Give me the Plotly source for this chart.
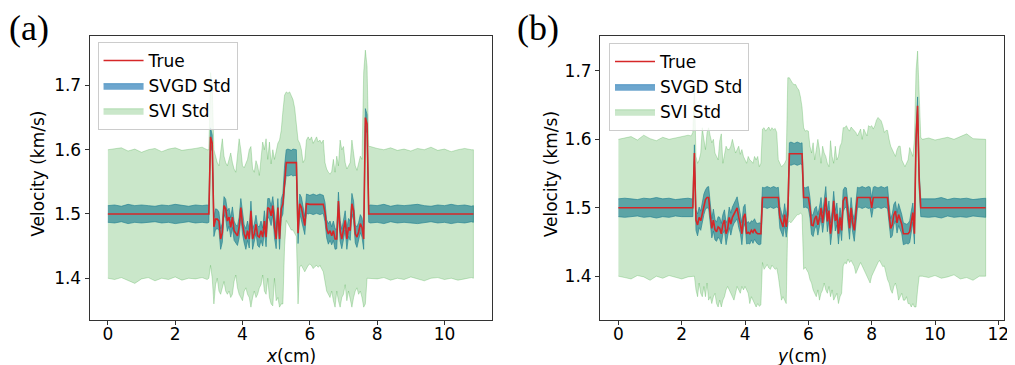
import plotly.graph_objects as go

# ---------------- Panel (a): velocity along x ----------------
a_x_flat1 = [0.0, 0.2, 0.4, 0.6, 0.8, 1.0, 1.2, 1.4, 1.6, 1.8, 2.0, 2.2, 2.4, 2.6, 2.8, 2.95]
a_x_het = [3.00, 3.05, 3.10, 3.15, 3.20, 3.25, 3.30, 3.35, 3.40, 3.45, 3.50, 3.55, 3.60, 3.65, 3.70, 3.75,
           3.80, 3.85, 3.90, 3.95, 4.00, 4.05, 4.10, 4.15, 4.20, 4.25, 4.30, 4.35, 4.40, 4.45, 4.50, 4.55,
           4.60, 4.65, 4.70, 4.75, 4.80, 4.85, 4.90, 4.95, 5.00, 5.05, 5.10, 5.15, 5.20, 5.25, 5.30, 5.35,
           5.40, 5.45, 5.50, 5.55, 5.60, 5.65, 5.70, 5.75, 5.80, 5.85, 5.90, 5.95, 6.00, 6.05, 6.10, 6.15,
           6.20, 6.25, 6.30, 6.35, 6.40, 6.45, 6.50, 6.55, 6.60, 6.65, 6.70, 6.75, 6.80, 6.85, 6.90, 6.95,
           7.00, 7.05, 7.10, 7.15, 7.20, 7.25, 7.30, 7.35, 7.40, 7.45, 7.50, 7.55, 7.60, 7.65, 7.70, 7.75]
a_x_flat2 = [7.8, 8.0, 8.2, 8.4, 8.6, 8.8, 9.0, 9.2, 9.4, 9.6, 9.8, 10.0, 10.2, 10.4, 10.6, 10.8, 10.86]

a_true_flat1 = [1.5] * 16
a_true_het = [1.500, 1.620, 1.610, 1.480, 1.492, 1.492, 1.489, 1.461, 1.471, 1.513, 1.508, 1.489, 1.495, 1.479,
              1.495, 1.474, 1.469, 1.466, 1.479, 1.510, 1.484, 1.469, 1.461, 1.474, 1.461, 1.505, 1.461, 1.469,
              1.484, 1.466, 1.464, 1.474, 1.464, 1.489, 1.464, 1.510, 1.508, 1.497, 1.513, 1.479, 1.461, 1.510,
              1.461, 1.508, 1.516, 1.557, 1.580, 1.580, 1.580, 1.580, 1.580, 1.580, 1.580, 1.470, 1.516, 1.510,
              1.495, 1.482, 1.516, 1.515, 1.515, 1.515, 1.515, 1.515, 1.515, 1.515, 1.515, 1.515, 1.515, 1.503,
              1.477, 1.469, 1.474, 1.466, 1.474, 1.461, 1.461, 1.520, 1.474, 1.461, 1.474, 1.490, 1.461, 1.479,
              1.474, 1.516, 1.505, 1.469, 1.464, 1.472, 1.485, 1.479, 1.461, 1.650, 1.640, 1.500]
a_true_flat2 = [1.5] * 17

a_svgd_std_flat1 = [0.013, 0.014, 0.012, 0.015, 0.013, 0.014, 0.013, 0.012, 0.014, 0.013, 0.015, 0.013,
                    0.012, 0.014, 0.013, 0.014]
a_svgd_std_het = [0.013, 0.014, 0.013, 0.015,
                  0.016, 0.015, 0.014, 0.016, 0.015, 0.014, 0.015, 0.016, 0.014, 0.015,
                  0.016, 0.015, 0.014, 0.015, 0.016, 0.014, 0.015, 0.014, 0.016, 0.015,
                  0.014, 0.015, 0.016, 0.015, 0.014, 0.015, 0.016, 0.015, 0.014, 0.016,
                  0.015, 0.014, 0.016, 0.015, 0.014, 0.016, 0.015, 0.014, 0.016, 0.015, 0.016, 0.018,
                  0.020, 0.021, 0.020, 0.019, 0.021, 0.020, 0.020,
                  0.016, 0.015, 0.016, 0.015, 0.014, 0.015,
                  0.015, 0.014, 0.015, 0.016, 0.015, 0.014, 0.015, 0.016, 0.015, 0.014,
                  0.015, 0.014, 0.016, 0.015, 0.014, 0.015, 0.016, 0.015, 0.014, 0.016, 0.015, 0.014,
                  0.015, 0.016, 0.014, 0.015, 0.016, 0.015, 0.014, 0.016, 0.015, 0.014, 0.015, 0.016,
                  0.014, 0.015, 0.013]
a_svgd_std_flat2 = [0.014, 0.013, 0.015, 0.012, 0.014, 0.013, 0.014, 0.015, 0.013, 0.012, 0.014, 0.013,
                    0.015, 0.013, 0.014, 0.012, 0.013]

a_svi_hi_flat1 = [1.600, 1.602, 1.603, 1.598, 1.601, 1.596, 1.600, 1.602, 1.597, 1.601, 1.603, 1.599,
                  1.600, 1.602, 1.604, 1.600]
a_svi_hi_het = [1.600, 1.720, 1.700, 1.600,
                1.590, 1.580, 1.575, 1.600, 1.617, 1.590, 1.580, 1.575, 1.585, 1.595,
                1.580, 1.570, 1.565, 1.590, 1.617, 1.600, 1.575, 1.572, 1.580, 1.585,
                1.600, 1.605, 1.570, 1.565, 1.583, 1.575, 1.560, 1.590, 1.612, 1.600,
                1.617, 1.585, 1.612, 1.578, 1.600, 1.585, 1.600, 1.610, 1.615, 1.630, 1.660, 1.685,
                1.690, 1.688, 1.690, 1.685, 1.678, 1.665, 1.640,
                1.615, 1.610, 1.600, 1.580, 1.585, 1.615,
                1.620, 1.615, 1.620, 1.610, 1.615, 1.620, 1.612, 1.615, 1.610, 1.615,
                1.580, 1.570, 1.565, 1.562, 1.566, 1.585, 1.565, 1.590, 1.575, 1.615, 1.600, 1.605,
                1.580, 1.570, 1.575, 1.580, 1.615, 1.590, 1.575, 1.568, 1.580, 1.590, 1.585, 1.720,
                1.755, 1.730, 1.605]
a_svi_hi_flat2 = [1.605, 1.602, 1.600, 1.603, 1.599, 1.601, 1.598, 1.602, 1.600, 1.604, 1.599, 1.601,
                  1.597, 1.600, 1.602, 1.600, 1.600]

a_svi_lo_flat1 = [1.400, 1.398, 1.401, 1.396, 1.392, 1.399, 1.401, 1.396, 1.400, 1.398, 1.402, 1.397,
                  1.400, 1.399, 1.401, 1.398]
a_svi_lo_het = [1.400, 1.420, 1.400, 1.360,
                1.390, 1.400, 1.380, 1.375, 1.385, 1.395, 1.380, 1.375, 1.380, 1.370,
                1.375, 1.395, 1.405, 1.385, 1.375, 1.370, 1.365, 1.380, 1.385, 1.375,
                1.370, 1.355, 1.370, 1.380, 1.370, 1.375, 1.385, 1.390, 1.405, 1.380,
                1.375, 1.400, 1.370, 1.360, 1.357, 1.400, 1.365, 1.370, 1.355, 1.360, 1.360, 1.450,
                1.490, 1.485, 1.480, 1.475, 1.475, 1.470, 1.465,
                1.360, 1.418, 1.420, 1.415, 1.410, 1.415,
                1.420, 1.422, 1.420, 1.415, 1.418, 1.420, 1.417, 1.420, 1.415, 1.410,
                1.395, 1.380, 1.375, 1.370, 1.380, 1.365, 1.355, 1.380, 1.365, 1.355, 1.370, 1.375,
                1.390, 1.365, 1.380, 1.370, 1.355, 1.370, 1.380, 1.385, 1.375, 1.380, 1.370, 1.355,
                1.360, 1.400, 1.400]
a_svi_lo_flat2 = [1.400, 1.399, 1.401, 1.397, 1.400, 1.398, 1.402, 1.399, 1.396, 1.400, 1.401, 1.398,
                  1.400, 1.397, 1.399, 1.401, 1.400]

# ---------------- Panel (b): velocity along y ----------------
b_x_flat1 = [0.0, 0.2, 0.4, 0.6, 0.8, 1.0, 1.2, 1.4, 1.6, 1.8, 2.0, 2.2, 2.3]
b_x_het = [2.35, 2.40, 2.45, 2.50, 2.55, 2.60, 2.65, 2.70, 2.75, 2.80, 2.85, 2.90, 2.95, 3.00, 3.05, 3.10,
           3.15, 3.20, 3.25, 3.30, 3.35, 3.40, 3.45, 3.50, 3.55, 3.60, 3.65, 3.70, 3.75, 3.80, 3.85, 3.90,
           3.95, 4.00, 4.05, 4.10, 4.15, 4.20, 4.25, 4.30, 4.35, 4.40, 4.45, 4.50, 4.55, 4.60, 4.65, 4.70,
           4.75, 4.80, 4.85, 4.90, 4.95, 5.00, 5.05, 5.10, 5.15, 5.20, 5.25, 5.30, 5.35, 5.40, 5.45, 5.50,
           5.55, 5.60, 5.65, 5.70, 5.75, 5.80, 5.85, 5.90, 5.95, 6.00, 6.05, 6.10, 6.15, 6.20, 6.25, 6.30,
           6.35, 6.40, 6.45, 6.50, 6.55, 6.60, 6.65, 6.70, 6.75, 6.80, 6.85, 6.90, 6.95, 7.00, 7.05, 7.10,
           7.15, 7.20, 7.25, 7.30, 7.35, 7.40, 7.45, 7.50, 7.55, 7.60, 7.65, 7.70, 7.75, 7.80, 7.85, 7.90,
           7.95, 8.00, 8.05, 8.10, 8.15, 8.20, 8.25, 8.30, 8.35, 8.40, 8.45, 8.50, 8.55, 8.60, 8.65, 8.70,
           8.75, 8.80, 8.85, 8.90, 8.95, 9.00, 9.05, 9.10, 9.15, 9.20, 9.25, 9.30, 9.35, 9.40, 9.45, 9.50,
           9.55]
b_x_flat2 = [9.6, 9.8, 10.0, 10.2, 10.4, 10.6, 10.8, 11.0, 11.2, 11.4, 11.6]

b_true_flat1 = [1.5] * 13
b_true_het = [1.500, 1.580, 1.482, 1.475, 1.486, 1.481, 1.492, 1.505, 1.512, 1.515,
              1.515, 1.490, 1.470, 1.482, 1.468, 1.465, 1.472, 1.470, 1.462, 1.476,
              1.482, 1.462, 1.469, 1.486, 1.476, 1.486, 1.491, 1.496, 1.500, 1.486,
              1.477, 1.462, 1.486, 1.491, 1.462, 1.464, 1.462, 1.467, 1.464, 1.469,
              1.464, 1.462, 1.462, 1.462, 1.515, 1.515, 1.515, 1.515, 1.515, 1.515,
              1.515, 1.515, 1.515, 1.515, 1.515, 1.486, 1.478, 1.472, 1.490, 1.472,
              1.490, 1.579, 1.579, 1.579, 1.579, 1.579, 1.579, 1.579, 1.579, 1.579,
              1.515, 1.515, 1.515, 1.515, 1.500, 1.475, 1.474, 1.484, 1.488, 1.475,
              1.485, 1.500, 1.478, 1.495, 1.515, 1.480, 1.496, 1.462, 1.481, 1.510,
              1.481, 1.491, 1.462, 1.486, 1.467, 1.510, 1.515, 1.515, 1.490, 1.470,
              1.500, 1.478, 1.467, 1.490, 1.515, 1.515, 1.515, 1.515, 1.515, 1.515,
              1.515, 1.515, 1.515, 1.500, 1.515, 1.515, 1.515, 1.515, 1.515, 1.515,
              1.515, 1.515, 1.515, 1.515, 1.490, 1.470, 1.475, 1.490, 1.495, 1.478,
              1.490, 1.483, 1.476, 1.462, 1.462, 1.462, 1.462, 1.465, 1.480, 1.493,
              1.462, 1.600, 1.649, 1.540, 1.500]
b_true_flat2 = [1.5] * 11

b_svgd_std_flat1 = [0.013, 0.014, 0.013, 0.012, 0.014, 0.013, 0.015, 0.013, 0.014, 0.012, 0.013, 0.014, 0.013]
b_svgd_std_het = [0.013, 0.012, 0.015, 0.016, 0.015, 0.014, 0.016, 0.015, 0.014, 0.015,
                  0.016, 0.015, 0.014, 0.016, 0.015, 0.014, 0.015, 0.016, 0.015, 0.014,
                  0.015, 0.016, 0.014, 0.015, 0.016, 0.015, 0.014, 0.015, 0.016, 0.015,
                  0.014, 0.016, 0.015, 0.014, 0.015, 0.016, 0.015, 0.014, 0.016, 0.015,
                  0.014, 0.015, 0.016, 0.015, 0.015, 0.014, 0.015, 0.016, 0.015, 0.014,
                  0.015, 0.016, 0.015, 0.014, 0.015, 0.016, 0.015, 0.014, 0.016, 0.015,
                  0.015, 0.016, 0.017, 0.016, 0.015, 0.016, 0.017, 0.016, 0.015, 0.016,
                  0.015, 0.014, 0.015, 0.016, 0.015, 0.014, 0.016, 0.015, 0.014, 0.015,
                  0.016, 0.015, 0.014, 0.015, 0.016, 0.015, 0.014, 0.016, 0.015, 0.014,
                  0.015, 0.016, 0.015, 0.014, 0.015, 0.016, 0.015, 0.014, 0.015, 0.016,
                  0.015, 0.014, 0.016, 0.015, 0.015, 0.014, 0.015, 0.016, 0.015, 0.014,
                  0.015, 0.016, 0.015, 0.014, 0.015, 0.016, 0.015, 0.014, 0.015, 0.016,
                  0.015, 0.014, 0.015, 0.016, 0.015, 0.014, 0.016, 0.015, 0.014, 0.015,
                  0.016, 0.015, 0.014, 0.016, 0.015, 0.014, 0.015, 0.016, 0.015, 0.014,
                  0.015, 0.012, 0.013, 0.013, 0.013]
b_svgd_std_flat2 = [0.013, 0.014, 0.013, 0.015, 0.012, 0.014, 0.013, 0.014, 0.012, 0.013, 0.014]

b_svi_hi_flat1 = [1.600, 1.602, 1.604, 1.599, 1.606, 1.601, 1.598, 1.603, 1.600, 1.602, 1.604, 1.606, 1.605]
b_svi_hi_het = [1.610, 1.680, 1.575, 1.565, 1.570, 1.580, 1.617, 1.600, 1.585, 1.610,
                1.617, 1.605, 1.595, 1.600, 1.580, 1.575, 1.570, 1.598, 1.608, 1.565,
                1.580, 1.590, 1.585, 1.585, 1.590, 1.600, 1.590, 1.580, 1.585, 1.590,
                1.578, 1.585, 1.575, 1.570, 1.565, 1.575, 1.570, 1.568, 1.565, 1.575,
                1.570, 1.575, 1.560, 1.565, 1.615, 1.617, 1.612, 1.615, 1.618, 1.613,
                1.617, 1.614, 1.616, 1.610, 1.570, 1.565, 1.560, 1.562, 1.565, 1.570,
                1.690, 1.690, 1.685, 1.682, 1.680, 1.680, 1.675, 1.672, 1.662, 1.647,
                1.617, 1.612, 1.613, 1.612, 1.590, 1.580, 1.595, 1.570, 1.585, 1.600,
                1.585, 1.565, 1.590, 1.580, 1.575, 1.565, 1.560, 1.598, 1.575, 1.565,
                1.590, 1.570, 1.575, 1.590, 1.595, 1.617, 1.617, 1.620, 1.615, 1.612,
                1.618, 1.615, 1.613, 1.610, 1.605, 1.610, 1.615, 1.600, 1.615, 1.610,
                1.605, 1.620, 1.618, 1.620, 1.615, 1.620, 1.628, 1.632, 1.630, 1.627,
                1.620, 1.610, 1.613, 1.613, 1.600, 1.590, 1.585, 1.580, 1.575, 1.585,
                1.590, 1.590, 1.570, 1.565, 1.560, 1.565, 1.570, 1.588, 1.580, 1.575,
                1.600, 1.700, 1.729, 1.650, 1.603]
b_svi_hi_flat2 = [1.600, 1.602, 1.599, 1.601, 1.603, 1.600, 1.604, 1.608, 1.601, 1.600, 1.600]

b_svi_lo_flat1 = [1.400, 1.398, 1.396, 1.401, 1.399, 1.394, 1.400, 1.397, 1.401, 1.398, 1.396, 1.399, 1.400]
b_svi_lo_het = [1.400, 1.400, 1.380, 1.370, 1.390, 1.375, 1.370, 1.385, 1.370, 1.390,
                1.365, 1.370, 1.360, 1.370, 1.375, 1.360, 1.355, 1.365, 1.355, 1.365,
                1.370, 1.380, 1.385, 1.380, 1.375, 1.370, 1.365, 1.375, 1.385, 1.380,
                1.375, 1.385, 1.380, 1.385, 1.380, 1.375, 1.360, 1.370, 1.365, 1.360,
                1.355, 1.360, 1.356, 1.358, 1.420, 1.410, 1.413, 1.417, 1.412, 1.410,
                1.416, 1.413, 1.410, 1.412, 1.400, 1.385, 1.365, 1.370, 1.365, 1.360,
                1.478, 1.480, 1.478, 1.482, 1.485, 1.487, 1.490, 1.490, 1.492, 1.490,
                1.410, 1.413, 1.410, 1.405, 1.395, 1.390, 1.380, 1.375, 1.370, 1.380,
                1.365, 1.375, 1.380, 1.390, 1.380, 1.375, 1.385, 1.370, 1.380, 1.365,
                1.370, 1.375, 1.360, 1.370, 1.375, 1.415, 1.420, 1.418, 1.425, 1.420,
                1.423, 1.418, 1.414, 1.404, 1.410, 1.415, 1.420, 1.414, 1.410, 1.405,
                1.400, 1.395, 1.390, 1.400, 1.405, 1.410, 1.414, 1.420, 1.423, 1.418,
                1.414, 1.415, 1.405, 1.395, 1.390, 1.380, 1.375, 1.385, 1.390, 1.380,
                1.365, 1.370, 1.375, 1.365, 1.365, 1.370, 1.360, 1.360, 1.355, 1.360,
                1.355, 1.355, 1.380, 1.400, 1.400]
b_svi_lo_flat2 = [1.400, 1.398, 1.401, 1.397, 1.399, 1.402, 1.396, 1.398, 1.394, 1.400, 1.400]

legend_labels = ["True", "SVGD Std", "SVI Std"]
panel_labels = ["(a)", "(b)"]
x_titles = ["<i>x</i>(cm)", "<i>y</i>(cm)"]
y_title = "Velocity (km/s)"

RED = "#d62728"
SVGD_FILL = "rgba(31,119,180,0.65)"
SVI_FILL = "rgba(44,160,44,0.25)"

panels = [
    dict(x=a_x_flat1 + a_x_het + a_x_flat2,
         true=a_true_flat1 + a_true_het + a_true_flat2,
         std=a_svgd_std_flat1 + a_svgd_std_het + a_svgd_std_flat2,
         hi=a_svi_hi_flat1 + a_svi_hi_het + a_svi_hi_flat2,
         lo=a_svi_lo_flat1 + a_svi_lo_het + a_svi_lo_flat2),
    dict(x=b_x_flat1 + b_x_het + b_x_flat2,
         true=b_true_flat1 + b_true_het + b_true_flat2,
         std=b_svgd_std_flat1 + b_svgd_std_het + b_svgd_std_flat2,
         hi=b_svi_hi_flat1 + b_svi_hi_het + b_svi_hi_flat2,
         lo=b_svi_lo_flat1 + b_svi_lo_het + b_svi_lo_flat2),
]

# The page body has an 8px default margin, so the figure is drawn 8px in from the window corner.
OFF = 8
W, H = 1015 - OFF, 365 - OFF


def fx(px):
    return (px - OFF) / W


def fy(py):
    return 1 - (py - OFF) / H


fig = go.Figure()
FONT = "DejaVu Sans"

for i, p in enumerate(panels):
    xa = "x" if i == 0 else "x2"
    ya = "y" if i == 0 else "y2"
    lg = "legend" if i == 0 else "legend2"
    xs = p["x"]
    up = [t + s for t, s in zip(p["true"], p["std"])]
    dn = [t - s for t, s in zip(p["true"], p["std"])]
    fig.add_trace(go.Scatter(x=xs + xs[::-1], y=up + dn[::-1], fill="toself", fillcolor=SVGD_FILL,
                             line=dict(color=SVGD_FILL, width=1), mode="lines", name=legend_labels[1],
                             legend=lg, legendrank=2, xaxis=xa, yaxis=ya, hoverinfo="skip"))
    fig.add_trace(go.Scatter(x=xs + xs[::-1], y=p["hi"] + p["lo"][::-1], fill="toself", fillcolor=SVI_FILL,
                             line=dict(color=SVI_FILL, width=1), mode="lines", name=legend_labels[2],
                             legend=lg, legendrank=3, xaxis=xa, yaxis=ya, hoverinfo="skip"))
    fig.add_trace(go.Scatter(x=xs, y=p["true"], mode="lines", line=dict(color=RED, width=1.6),
                             name=legend_labels[0], legend=lg, legendrank=1, xaxis=xa, yaxis=ya))

px_left = [90, 603]
px_right = [494, 1009]
py_top = 36
py_bot = 320

axis_common = dict(showgrid=False, zeroline=False, showline=True, mirror=True, linecolor="#333333",
                   linewidth=1, ticks="outside", ticklen=4, tickwidth=1, tickcolor="#333333",
                   tickfont=dict(family=FONT, size=17, color="black"))

legend_common = dict(xanchor="left", yanchor="top", bgcolor="rgba(255,255,255,0.8)",
                     bordercolor="#cccccc", borderwidth=1, font=dict(family=FONT, size=17, color="black"),
                     traceorder="normal", tracegroupgap=0, itemwidth=40)

fig.update_layout(
    width=W, height=H, margin=dict(l=0, r=0, t=0, b=0),
    paper_bgcolor="white", plot_bgcolor="white",
    xaxis=dict(domain=[fx(px_left[0]), fx(px_right[0])], range=[-0.543, 11.40],
               tickvals=[0, 2, 4, 6, 8, 10], anchor="y", ticklabelstandoff=-5, **axis_common),
    yaxis=dict(domain=[fy(py_bot), fy(py_top)], range=[1.335, 1.777],
               tickvals=[1.4, 1.5, 1.6, 1.7], tickformat=".1f", anchor="x", **axis_common),
    xaxis2=dict(domain=[fx(px_left[1]), fx(px_right[1])], range=[-0.58, 12.18],
                tickvals=[0, 2, 4, 6, 8, 10, 12], anchor="y2", ticklabelstandoff=-5, **axis_common),
    yaxis2=dict(domain=[fy(py_bot), fy(py_top)], range=[1.336, 1.751],
                tickvals=[1.4, 1.5, 1.6, 1.7], tickformat=".1f", anchor="x2", **axis_common),
    legend=dict(x=fx(98), y=fy(42), **legend_common),
    legend2=dict(x=fx(612), y=fy(43), **legend_common),
)

annotations = []
xcenters = [(px_left[0] + px_right[0]) / 2, (px_left[1] + px_right[1]) / 2]
for i in range(2):
    annotations.append(dict(text=x_titles[i], x=fx(xcenters[i]), y=fy(356), xref="paper", yref="paper",
                            showarrow=False, xanchor="center", yanchor="middle",
                            font=dict(family=FONT, size=17, color="black")))
for xc in [38, 554]:
    annotations.append(dict(text=y_title, x=fx(xc), y=fy(174), xref="paper", yref="paper",
                            showarrow=False, textangle=-90, xanchor="center", yanchor="middle",
                            font=dict(family=FONT, size=17, color="black")))
for lab, xc in zip(panel_labels, [29, 541]):
    annotations.append(dict(text=lab, x=fx(xc), y=fy(28), xref="paper", yref="paper",
                            showarrow=False, xanchor="center", yanchor="middle",
                            font=dict(family="Liberation Serif", size=36, color="black")))
fig.update_layout(annotations=annotations)

fig.write_html("out.html")
